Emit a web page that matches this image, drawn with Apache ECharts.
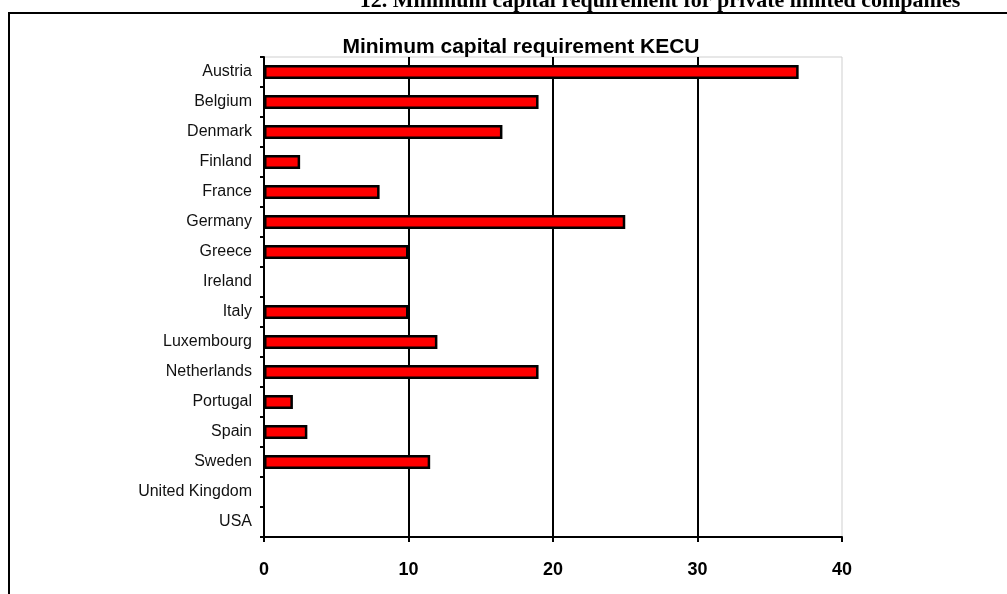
<!DOCTYPE html>
<html>
<head>
<meta charset="utf-8">
<script src="https://cdn.jsdelivr.net/npm/echarts@6/dist/echarts.min.js"></script>
<style>
  html, body { margin: 0; padding: 0; background: #fff; }
  #chart { width: 1007px; height: 594px; }
</style>
</head>
<body>
<div id="chart"></div>
<script>
// Minimum capital requirement for private limited companies, in thousand ECU
const countries = ['Austria', 'Belgium', 'Denmark', 'Finland', 'France', 'Germany', 'Greece', 'Ireland',
  'Italy', 'Luxembourg', 'Netherlands', 'Portugal', 'Spain', 'Sweden', 'United Kingdom', 'USA'];
const minCapital = [37, 19, 16.5, 2.5, 8, 25, 10, 0, 10, 12, 19, 2, 3, 11.5, 0, 0];
const valueTicks = [0, 10, 20, 30, 40];

const pageTitle = '12. Minimum capital requirement for private limited companies';
const chartTitle = 'Minimum capital requirement KECU';

// Countries without a requirement get no outline, so nothing is drawn for them
const barData = minCapital.map(v => v === 0 ? { value: v, itemStyle: { borderWidth: 0 } } : v);

const chart = echarts.init(document.getElementById('chart'), null, { renderer: 'canvas' });

chart.setOption({
  animation: false,
  backgroundColor: '#ffffff',
  grid: {
    left: 264, right: 165, top: 57, bottom: 57,
    show: true, borderColor: '#cfcfcf', borderWidth: 1, backgroundColor: 'transparent'
  },
  graphic: [
    {
      type: 'polyline',
      shape: { points: [[9, 600], [9, 13], [1010, 13]] },
      style: { stroke: '#000', lineWidth: 2, fill: null }
    },
    {
      type: 'text',
      x: 660, y: 1,
      style: {
        text: pageTitle, align: 'center', verticalAlign: 'middle',
        font: 'bold 22px "Liberation Serif", "Times New Roman", serif', fill: '#000'
      }
    },
    {
      type: 'text',
      x: 521, y: 47,
      style: {
        text: chartTitle, align: 'center', verticalAlign: 'middle',
        font: 'bold 21px "Liberation Sans", Arial, sans-serif', fill: '#000'
      }
    }
  ],
  xAxis: {
    type: 'value',
    min: valueTicks[0],
    max: valueTicks[valueTicks.length - 1],
    interval: valueTicks[1] - valueTicks[0],
    axisLine: { show: true, lineStyle: { color: '#000', width: 2 } },
    axisTick: { show: true, length: 5, lineStyle: { color: '#000', width: 2 } },
    axisLabel: {
      margin: 24, color: '#000', fontSize: 18, fontWeight: 'bold',
      fontFamily: '"Liberation Sans", Arial, sans-serif'
    },
    splitLine: {
      show: true, showMinLine: false, showMaxLine: false,
      lineStyle: { color: '#000', width: 2 }
    }
  },
  yAxis: {
    type: 'category',
    data: countries,
    inverse: true,
    axisLine: { show: true, lineStyle: { color: '#000', width: 2 } },
    axisTick: { show: true, length: 4, lineStyle: { color: '#000', width: 2 } },
    axisLabel: {
      margin: 12, color: '#111', fontSize: 16,
      fontFamily: '"Liberation Sans", Arial, sans-serif'
    },
    splitLine: { show: false }
  },
  series: [{
    type: 'bar',
    data: barData,
    barWidth: 14,
    itemStyle: { color: '#ff0000', borderColor: '#000', borderWidth: 2.5 }
  }]
});
</script>
</body>
</html>
